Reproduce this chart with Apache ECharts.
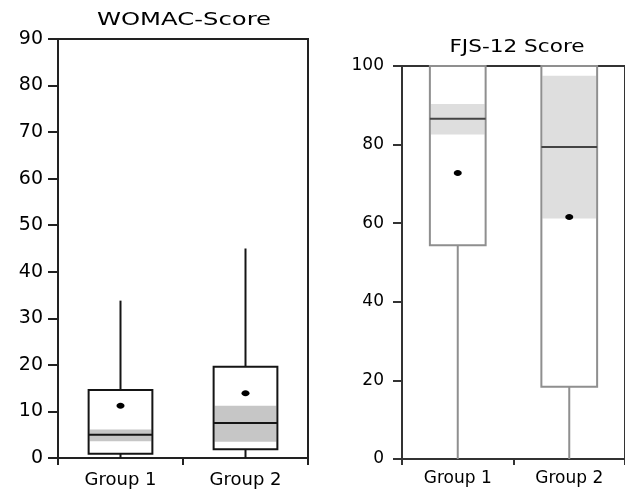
<!DOCTYPE html>
<html>
<head>
<meta charset="utf-8">
<script src="https://cdn.jsdelivr.net/npm/echarts@6/dist/echarts.min.js"></script>
<style>
  html, body { margin: 0; padding: 0; background: #fff; }
  #main { width: 625px; height: 492px; }
</style>
</head>
<body>
<div id="main"></div>
<script>
// categories
var categories = ['Group 1', 'Group 2'];

// WOMAC-Score
var womacLow = [0, 0];
var womacQ1 = [0.9, 1.9];
var womacMedian = [5.0, 7.5];
var womacQ3 = [14.6, 19.6];
var womacHigh = [33.8, 45.0];
var womacCiLow = [3.6, 3.5];
var womacCiHigh = [6.1, 11.2];
var womacMean = [11.2, 13.9];

// FJS-12 Score
var fjsLow = [0, 0];
var fjsQ1 = [54.4, 18.4];
var fjsMedian = [86.6, 79.4];
var fjsQ3 = [100, 100];
var fjsHigh = [100, 100];
var fjsCiLow = [82.6, 61.2];
var fjsCiHigh = [90.3, 97.5];
var fjsMean = [72.8, 61.6];

// y tick settings
var womacMax = 90, womacStep = 10;
var fjsMax = 100, fjsStep = 20;

function rows(low, q1, med, q3, high, ciLo, ciHi, mean) {
  return categories.map(function (c, i) {
    return [i, low[i], q1[i], med[i], q3[i], high[i], ciLo[i], ciHi[i], mean[i]];
  });
}

function makeRender(st) {
  return function (params, api) {
    var x = api.value(0);
    var cx = api.coord([x, 0])[0];
    var bw = api.size([1, 0])[0] * st.ratio;
    var y = function (i) { return api.coord([x, api.value(i)])[1]; };
    var left = cx - bw / 2;
    return {
      type: 'group',
      children: [
        { type: 'rect', shape: { x: left, y: y(4), width: bw, height: y(2) - y(4) },
          style: { fill: '#fff' } },
        { type: 'rect', shape: { x: left + 1, y: y(7), width: bw - 2, height: y(6) - y(7) },
          style: { fill: st.band } },
        { type: 'line', shape: { x1: cx, y1: y(2), x2: cx, y2: y(1) },
          style: { stroke: st.line, lineWidth: 2 } },
        { type: 'line', shape: { x1: cx, y1: y(4), x2: cx, y2: y(5) },
          style: { stroke: st.line, lineWidth: 2 } },
        { type: 'rect', shape: { x: left, y: y(4), width: bw, height: y(2) - y(4) },
          style: { fill: null, stroke: st.line, lineWidth: 2 } },
        { type: 'line', shape: { x1: left, y1: y(3), x2: left + bw, y2: y(3) },
          style: { stroke: st.median, lineWidth: 2 } },
        { type: 'ellipse', shape: { cx: cx, cy: y(8), rx: 4, ry: 3 },
          style: { fill: '#000' } }
      ]
    };
  };
}

var chart = echarts.init(document.getElementById('main'));

var axisCol = '#222';
var labelFont = 'DejaVu Sans';

chart.setOption({
  animation: false,
  backgroundColor: '#fff',
  graphic: [
    { type: 'text', x: 184, y: 20, scaleX: 1.35,
      style: { text: 'WOMAC-Score', fontSize: 18, fontFamily: labelFont, fill: '#000',
               align: 'center', verticalAlign: 'middle' } },
    { type: 'text', x: 517, y: 47, scaleX: 1.2,
      style: { text: 'FJS-12 Score', fontSize: 18, fontFamily: labelFont, fill: '#000',
               align: 'center', verticalAlign: 'middle' } }
  ],
  grid: [
    { left: 58, top: 39, width: 250, height: 419, show: true,
      borderColor: axisCol, borderWidth: 2, backgroundColor: 'transparent' },
    { left: 402, top: 66, width: 226, height: 393, show: true,
      borderColor: '#333', borderWidth: 2, backgroundColor: 'transparent' }
  ],
  xAxis: [
    { type: 'category', gridIndex: 0, data: categories,
      axisLine: { lineStyle: { color: axisCol, width: 2 } },
      axisTick: { show: true, alignWithLabel: false, length: 7, lineStyle: { color: axisCol, width: 2 } },
      axisLabel: { fontSize: 18, fontFamily: labelFont, color: '#000', margin: 13 } },
    { type: 'category', gridIndex: 1, data: categories,
      axisLine: { lineStyle: { color: '#333', width: 2 } },
      axisTick: { show: true, alignWithLabel: false, length: 6, lineStyle: { color: '#333', width: 2 } },
      axisLabel: { fontSize: 17, fontFamily: labelFont, color: '#000', margin: 11 } }
  ],
  yAxis: [
    { type: 'value', gridIndex: 0, min: 0, max: womacMax, interval: womacStep,
      axisLine: { show: true, lineStyle: { color: axisCol, width: 2 } },
      axisTick: { show: true, length: 10, lineStyle: { color: axisCol, width: 2 } },
      splitLine: { show: false },
      axisLabel: { fontSize: 19, fontFamily: labelFont, color: '#000', margin: 15 } },
    { type: 'value', gridIndex: 1, min: 0, max: fjsMax, interval: fjsStep,
      axisLine: { show: true, lineStyle: { color: '#333', width: 2 } },
      axisTick: { show: true, length: 9, lineStyle: { color: '#333', width: 2 } },
      splitLine: { show: false },
      axisLabel: { fontSize: 17, fontFamily: labelFont, color: '#000', margin: 18 } }
  ],
  series: [
    { type: 'custom', xAxisIndex: 0, yAxisIndex: 0, clip: false,
      renderItem: makeRender({ ratio: 0.51, line: '#151515', median: '#151515', band: '#c6c6c6' }),
      data: rows(womacLow, womacQ1, womacMedian, womacQ3, womacHigh, womacCiLow, womacCiHigh, womacMean) },
    { type: 'custom', xAxisIndex: 1, yAxisIndex: 1, clip: false,
      renderItem: makeRender({ ratio: 0.5, line: '#8f8f8f', median: '#444', band: '#dedede' }),
      data: rows(fjsLow, fjsQ1, fjsMedian, fjsQ3, fjsHigh, fjsCiLow, fjsCiHigh, fjsMean) }
  ]
});
</script>
</body>
</html>
